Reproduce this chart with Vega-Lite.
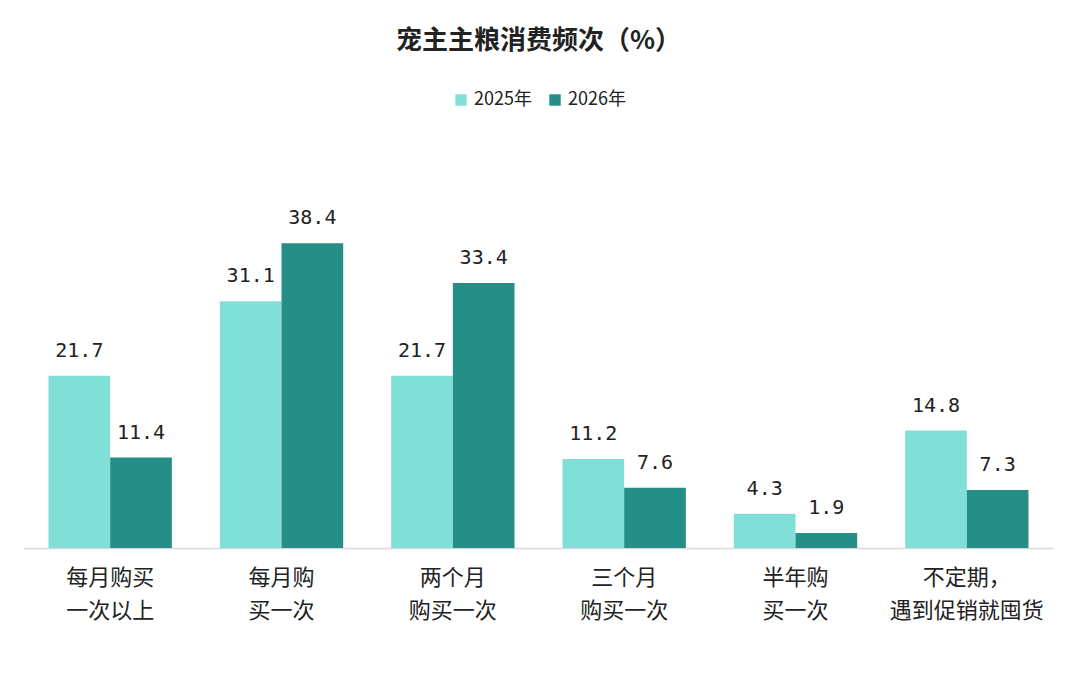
{
  "$schema": "https://vega.github.io/schema/vega-lite/v6.json",
  "autosize": "none",
  "width": 1029,
  "height": 408,
  "padding": {"left": 24, "top": 140, "right": 27, "bottom": 139},
  "background": "white",
  "config": {"view": {"stroke": null}},
  "title": {
    "text": "宠主主粮消费频次（%）",
    "anchor": "middle",
    "frame": "group",
    "font": "Noto Sans CJK SC",
    "fontSize": 26,
    "fontWeight": "bold",
    "color": "#222222",
    "offset": 37
  },
  "data": {
    "values": [
      {"category": "每月购买\n一次以上", "year": "2025年", "value": 21.7},
      {"category": "每月购买\n一次以上", "year": "2026年", "value": 11.4},
      {"category": "每月购\n买一次", "year": "2025年", "value": 31.1},
      {"category": "每月购\n买一次", "year": "2026年", "value": 38.4},
      {"category": "两个月\n购买一次", "year": "2025年", "value": 21.7},
      {"category": "两个月\n购买一次", "year": "2026年", "value": 33.4},
      {"category": "三个月\n购买一次", "year": "2025年", "value": 11.2},
      {"category": "三个月\n购买一次", "year": "2026年", "value": 7.6},
      {"category": "半年购\n买一次", "year": "2025年", "value": 4.3},
      {"category": "半年购\n买一次", "year": "2026年", "value": 1.9},
      {"category": "不定期，\n遇到促销就囤货", "year": "2025年", "value": 14.8},
      {"category": "不定期，\n遇到促销就囤货", "year": "2026年", "value": 7.3}
    ]
  },
  "encoding": {
    "x": {
      "field": "category",
      "type": "nominal",
      "sort": null,
      "scale": {"paddingInner": 0.28, "paddingOuter": 0.143},
      "axis": {
        "title": null,
        "labelAngle": 0,
        "labelExpr": "split(datum.label, '\\n')",
        "labelFont": "Noto Sans CJK SC",
        "labelFontSize": 22,
        "labelColor": "#222222",
        "labelLineHeight": 33,
        "labelPadding": 19,
        "labelBaseline": "top",
        "ticks": false,
        "domainColor": "#d9d9d9",
        "domainWidth": 1.5
      }
    },
    "xOffset": {
      "field": "year",
      "type": "nominal",
      "sort": ["2025年", "2026年"],
      "scale": {"paddingInner": 0, "paddingOuter": 0}
    },
    "y": {
      "field": "value",
      "type": "quantitative",
      "scale": {"domain": [0, 51.4], "nice": false},
      "axis": null
    }
  },
  "layer": [
    {
      "mark": {"type": "bar"},
      "encoding": {
        "color": {
          "field": "year",
          "type": "nominal",
          "scale": {"domain": ["2025年", "2026年"], "range": ["#80dfd6", "#258e86"]},
          "legend": {
            "title": null,
            "orient": "none",
            "direction": "horizontal",
            "legendX": 428,
            "legendY": -49,
            "symbolType": "square",
            "symbolSize": 130,
            "symbolStrokeWidth": 0,
            "labelFont": "Noto Sans CJK SC",
            "labelFontSize": 18,
            "labelColor": "#222222",
            "labelOffset": 4,
            "columnPadding": 14
          }
        }
      }
    },
    {
      "mark": {
        "type": "text",
        "baseline": "bottom",
        "dy": -15,
        "font": "DejaVu Sans Mono",
        "fontSize": 20,
        "color": "#222222"
      },
      "encoding": {
        "text": {"field": "value", "type": "quantitative", "format": ".1f"}
      }
    }
  ]
}
